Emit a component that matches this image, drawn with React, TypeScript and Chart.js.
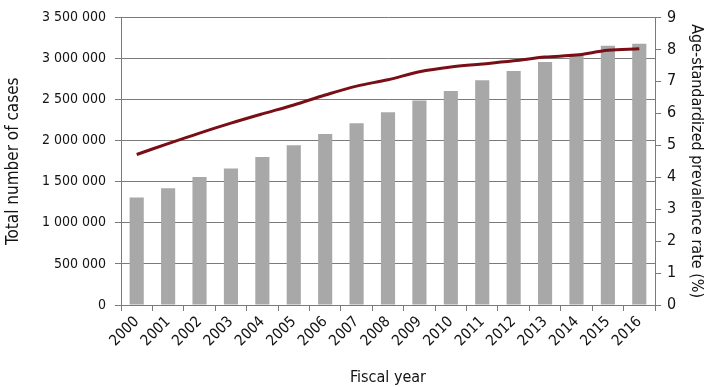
import React, { useEffect, useRef } from "react";
import { Chart, registerables } from "chart.js";

Chart.register(...registerables);

const years = ["2000","2001","2002","2003","2004","2005","2006","2007","2008","2009","2010","2011","2012","2013","2014","2015","2016"];
const totalCases = [1307000,1420000,1557000,1662000,1800000,1943000,2080000,2212000,2345000,2490000,2603000,2736000,2848000,2957000,3057000,3154000,3178000];
const prevalenceRate = [4.71,5.05,5.38,5.69,5.98,6.26,6.57,6.85,7.05,7.3,7.45,7.54,7.64,7.76,7.82,7.97,8.02];

const FONT = "'DejaVu Sans Condensed', 'DejaVu Sans', sans-serif";
const TEXT = "#141213";
const GRID = "#7a7a7a";

function fmt(v: number): string {
  return String(Math.round(v)).replace(/\B(?=(\d{3})+(?!\d))/g, " ");
}

export default function App() {
  const ref = useRef<HTMLCanvasElement | null>(null);
  useEffect(() => {
    if (!ref.current) return;
    const chart = new Chart(ref.current, {
      type: "bar",
      data: {
        labels: years,
        datasets: [
          {
            type: "line",
            label: "Age-standardized prevalence rate (%)",
            data: prevalenceRate,
            yAxisID: "y1",
            borderColor: "#7a0e16",
            backgroundColor: "#7a0e16",
            borderWidth: 3,
            pointRadius: 0,
            tension: 0.35,
            order: 0,
          },
          {
            type: "bar",
            label: "Total number of cases",
            data: totalCases,
            yAxisID: "y",
            backgroundColor: "#a8a8a8",
            barPercentage: 0.45,
            categoryPercentage: 1,
            order: 1,
          },
        ],
      },
      options: {
        animation: false,
        responsive: true,
        maintainAspectRatio: false,
        layout: { padding: { left: 3, right: 10, top: 13, bottom: 0 } },
        plugins: { legend: { display: false }, tooltip: { enabled: false } },
        scales: {
          x: {
            offset: true,
            grid: { offset: true, drawOnChartArea: false, drawTicks: true, tickLength: 6, color: GRID },
            border: { color: GRID, width: 1 },
            ticks: { color: TEXT, font: { family: FONT, size: 15 }, maxRotation: 45, minRotation: 45, padding: 2, autoSkip: false },
            title: { display: true, text: "Fiscal year", color: TEXT, font: { family: FONT, size: 16 }, padding: { top: 0, bottom: 0 } },
            afterFit: (s: any) => { s.height = 82; },
          },
          y: {
            position: "left",
            min: 0,
            max: 3500000,
            grid: { color: GRID, lineWidth: 1, tickLength: 6 },
            border: { color: GRID, width: 1 },
            ticks: { stepSize: 500000, color: TEXT, font: { family: FONT, size: 14 }, padding: 9, callback: (v: any) => fmt(Number(v)) },
            title: { display: true, text: "Total number of cases", color: TEXT, font: { family: FONT, size: 17 }, padding: { top: 0, bottom: 4 } },
            afterFit: (s: any) => { s.width = 118; },
          },
          y1: {
            position: "right",
            min: 0,
            max: 9,
            grid: { drawOnChartArea: false, color: GRID, tickLength: 6 },
            border: { color: GRID, width: 1 },
            ticks: { stepSize: 1, color: TEXT, font: { family: FONT, size: 16 }, padding: 6 },
            title: { display: true, text: "Age-standardized prevalence rate (%)", color: TEXT, font: { family: FONT, size: 16 }, padding: { top: 4, bottom: 0 } },
            afterFit: (s: any) => { s.width = 55; },
          },
        },
      },
    });
    return () => chart.destroy();
  }, []);
  return (
    <div style={{ position: "fixed", left: 0, top: 0, width: 720, height: 387, background: "#fff" }}>
      <canvas ref={ref} />
    </div>
  );
}
